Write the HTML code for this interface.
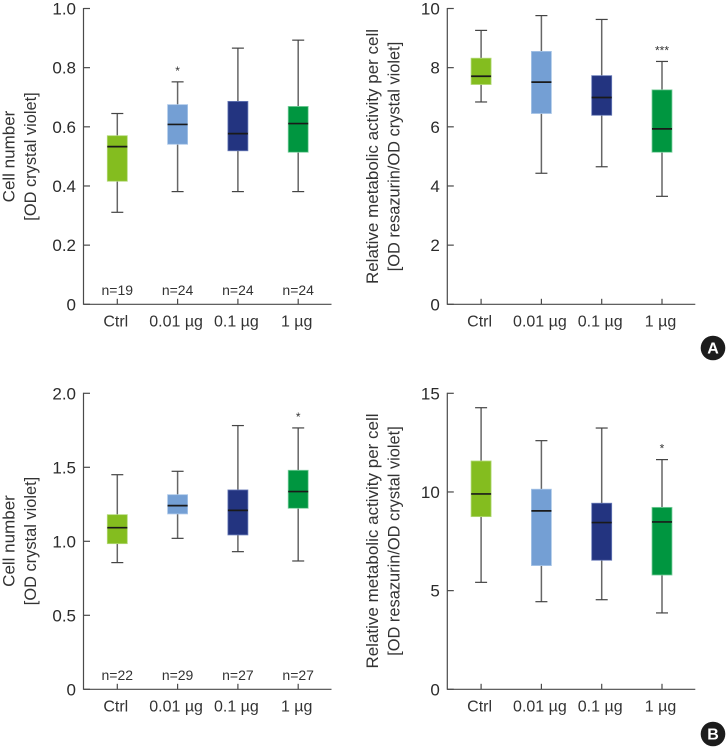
<!DOCTYPE html>
<html lang="en">
<head>
<meta charset="utf-8">
<title>Box plots of cell number and metabolic activity</title>
<style>
html,body{margin:0;padding:0;background:#fff;width:727px;height:747px;overflow:hidden}
svg{display:block;font-family:"Liberation Sans",sans-serif}
</style>
</head>
<body>
<svg id="figure" xmlns="http://www.w3.org/2000/svg" width="727" height="747" viewBox="0 0 727 747">
  <g>
    <circle cx="713" cy="348" r="12.3" fill="#1c1c1c"></circle>
    <text x="713" y="353.5" text-anchor="middle" font-size="16" font-weight="700" fill="#fff">A</text>
  </g>
  <g>
    <circle cx="713" cy="734" r="12.3" fill="#1c1c1c"></circle>
    <text x="713" y="739.5" text-anchor="middle" font-size="16" font-weight="700" fill="#fff">B</text>
  </g>
</svg>
<script>
const categories = ['Ctrl', '0.01 µg', '0.1 µg', '1 µg'];
const boxColors = ['#84bd1f', '#749fd4', '#233480', '#009640'];
const boxEdges = ['#b3d97a', '#a9c6e8', '#6a7cb8', '#7fd0a0'];
const seriesNames = ['ctrl', 'dose-0-01', 'dose-0-1', 'dose-1'];

// Panel A, cell number
const a1Low = [0.311, 0.381, 0.381, 0.381];
const a1Q1 = [0.416, 0.541, 0.519, 0.514];
const a1Median = [0.533, 0.608, 0.577, 0.611];
const a1Q3 = [0.570, 0.675, 0.686, 0.669];
const a1High = [0.645, 0.752, 0.866, 0.893];
const a1Ticks = [0, 0.2, 0.4, 0.6, 0.8, 1.0];
const a1TickLabels = ['0', '0.2', '0.4', '0.6', '0.8', '1.0'];
const a1Counts = ['n=19', 'n=24', 'n=24', 'n=24'];
const a1Stars = ['', '*', '', ''];

// Panel A, metabolic activity
const a2Low = [6.84, 4.43, 4.65, 3.65];
const a2Q1 = [7.43, 6.45, 6.39, 5.14];
const a2Median = [7.71, 7.51, 6.99, 5.93];
const a2Q3 = [8.32, 8.55, 7.73, 7.25];
const a2High = [9.26, 9.76, 9.63, 8.21];
const a2Ticks = [0, 2, 4, 6, 8, 10];
const a2TickLabels = ['0', '2', '4', '6', '8', '10'];
const a2Counts = ['', '', '', ''];
const a2Stars = ['', '', '', '***'];

// Panel B, cell number
const b1Low = [0.856, 1.02, 0.93, 0.867];
const b1Q1 = [0.984, 1.185, 1.043, 1.223];
const b1Median = [1.092, 1.241, 1.209, 1.336];
const b1Q3 = [1.18, 1.315, 1.347, 1.48];
const b1High = [1.45, 1.473, 1.782, 1.766];
const b1Ticks = [0, 0.5, 1.0, 1.5, 2.0];
const b1TickLabels = ['0', '0.5', '1.0', '1.5', '2.0'];
const b1Counts = ['n=22', 'n=29', 'n=27', 'n=27'];
const b1Stars = ['', '', '', '*'];

// Panel B, metabolic activity
const b2Low = [5.42, 4.44, 4.54, 3.87];
const b2Q1 = [8.75, 6.27, 6.54, 5.79];
const b2Median = [9.90, 9.04, 8.45, 8.48];
const b2Q3 = [11.57, 10.14, 9.43, 9.22];
const b2High = [14.27, 12.6, 13.24, 11.64];
const b2Ticks = [0, 5, 10, 15];
const b2TickLabels = ['0', '5', '10', '15'];
const b2Counts = ['', '', '', ''];
const b2Stars = ['', '', '', '*'];

const cellTitle = ['Cell number', '[OD crystal violet]'];
const activityTitle = ['Relative metabolic activity per cell', '[OD resazurin/OD crystal violet]'];

const SVG_NS = 'http://www.w3.org/2000/svg';
const figure = document.getElementById('figure');

function shape(parent, tag, attrs) {
  const el = document.createElementNS(SVG_NS, tag);
  for (const k in attrs) el.setAttribute(k, attrs[k]);
  parent.appendChild(el);
  return el;
}

function label(parent, x, y, str, size, anchor, fill) {
  const el = shape(parent, 'text', { x: x, y: y, 'font-size': size, 'text-anchor': anchor, fill: fill });
  el.textContent = str;
  return el;
}

function drawPanel(p) {
  const panel = shape(figure, 'g', {});
  
  

  const yMax = p.ticks[p.ticks.length - 1];
  const yScale = function (v) { return p.y0 - (v / yMax) * (p.y0 - p.yTop); };
  const xScale = function (i) { return p.axisX + 33.8 + i * 60.3; };
  const axisColor = '#4a4a4a';

  // axes
  const yAxis = shape(panel, 'line', { x1: p.axisX, x2: p.axisX, y1: p.yTop - 0.5, y2: p.y0 + 0.5, stroke: axisColor, 'stroke-width': 1.2 });
  
  
  const xAxis = shape(panel, 'line', { x1: p.axisX, x2: p.axisX + 248, y1: p.y0, y2: p.y0, stroke: axisColor, 'stroke-width': 1.2 });
  
  

  // y ticks
  p.ticks.forEach(function (t, i) {
    const y = yScale(t);
    const tick = shape(panel, 'line', { x1: p.axisX, x2: p.axisX + 6.5, y1: y, y2: y, stroke: axisColor, 'stroke-width': 1.2 });
    
    
    const txt = label(panel, p.axisX - 7.5, y + 6, p.tickLabels[i], 17, 'end', '#2b2b2b');
    
    
  });

  // titles
  p.title.forEach(function (line, i) {
    const tx = p.titleX + i * 21.5;
    const cy = p.titleY;
    const el = shape(panel, 'text', { x: 0, y: 0, 'font-size': i === 0 ? 17 : 16.4, 'text-anchor': 'middle', fill: '#333', transform: 'translate(' + tx + ' ' + cy + ') rotate(-90)' });
    el.textContent = line;
    
    
  });

  // boxes
  categories.forEach(function (cat, i) {
    const cx = xScale(i);
    const halfBox = 10;
    const halfCap = 6;
    const group = shape(panel, 'g', {});
    
    

    const tick = shape(group, 'line', { x1: cx, x2: cx, y1: p.y0 - 5.5, y2: p.y0, stroke: axisColor, 'stroke-width': 1.2 });
    
    

    const whisker = shape(group, 'line', { x1: cx, x2: cx, y1: yScale(p.high[i]), y2: yScale(p.low[i]), stroke: '#666', 'stroke-width': 1.5 });
    
    
    const capHigh = shape(group, 'line', { x1: cx - halfCap, x2: cx + halfCap, y1: yScale(p.high[i]), y2: yScale(p.high[i]), stroke: '#444', 'stroke-width': 1.2 });
    
    
    const capLow = shape(group, 'line', { x1: cx - halfCap, x2: cx + halfCap, y1: yScale(p.low[i]), y2: yScale(p.low[i]), stroke: '#444', 'stroke-width': 1.2 });
    
    

    const box = shape(group, 'rect', { x: cx - halfBox, y: yScale(p.q3[i]), width: halfBox * 2, height: yScale(p.q1[i]) - yScale(p.q3[i]), fill: boxColors[i], stroke: boxEdges[i], 'stroke-width': 0.8 });
    
    
    const median = shape(group, 'line', { x1: cx - halfBox, x2: cx + halfBox, y1: yScale(p.median[i]), y2: yScale(p.median[i]), stroke: '#1a1a1a', 'stroke-width': 1.7 });
    
    

    const catLabel = label(group, cx - 1.5, p.y0 + 22, cat, 16, 'middle', '#333');
    
    

    if (p.counts[i]) {
      const count = label(group, cx, p.y0 - 9.5, p.counts[i], 14, 'middle', '#333');
      
      
    }
    if (p.stars[i]) {
      const star = label(group, cx, yScale(p.high[i]) - 7, p.stars[i], 12, 'middle', '#333');
      
      
    }
  });
}

drawPanel({ name: 'panel-a-cell-number', axisX: 83.5, y0: 304.3, yTop: 8.5, titleX: 14.5, titleY: 156.5, title: cellTitle,
  low: a1Low, q1: a1Q1, median: a1Median, q3: a1Q3, high: a1High, ticks: a1Ticks, tickLabels: a1TickLabels, counts: a1Counts, stars: a1Stars });
drawPanel({ name: 'panel-a-metabolic-activity', axisX: 447.3, y0: 304.3, yTop: 8.5, titleX: 378, titleY: 156.5, title: activityTitle,
  low: a2Low, q1: a2Q1, median: a2Median, q3: a2Q3, high: a2High, ticks: a2Ticks, tickLabels: a2TickLabels, counts: a2Counts, stars: a2Stars });
drawPanel({ name: 'panel-b-cell-number', axisX: 83.5, y0: 689.3, yTop: 393.3, titleX: 14.5, titleY: 541, title: cellTitle,
  low: b1Low, q1: b1Q1, median: b1Median, q3: b1Q3, high: b1High, ticks: b1Ticks, tickLabels: b1TickLabels, counts: b1Counts, stars: b1Stars });
drawPanel({ name: 'panel-b-metabolic-activity', axisX: 447.3, y0: 689.3, yTop: 393.3, titleX: 378, titleY: 541, title: activityTitle,
  low: b2Low, q1: b2Q1, median: b2Median, q3: b2Q3, high: b2High, ticks: b2Ticks, tickLabels: b2TickLabels, counts: b2Counts, stars: b2Stars });
</script>
</body>
</html>
